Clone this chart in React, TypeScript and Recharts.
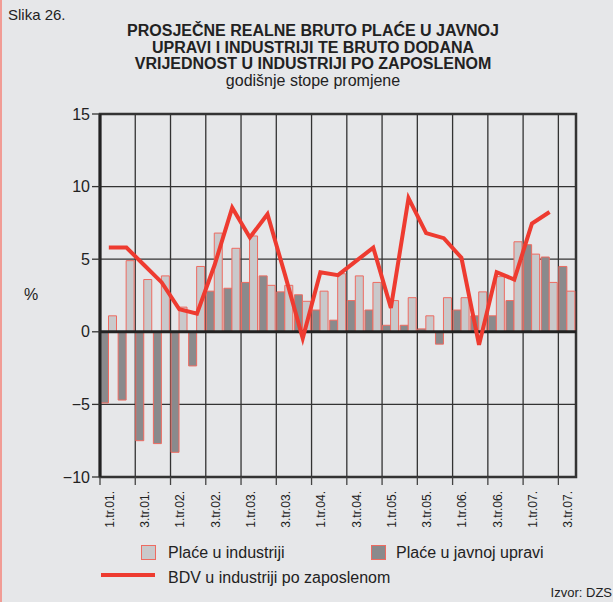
import React from "react";
import {
  ComposedChart,
  Bar,
  Line,
  XAxis,
  YAxis,
  CartesianGrid,
  ReferenceLine,
  ReferenceArea,
} from "recharts";

const quarters = [
  "1.tr.01.", "2.tr.01.", "3.tr.01.", "4.tr.01.",
  "1.tr.02.", "2.tr.02.", "3.tr.02.", "4.tr.02.",
  "1.tr.03.", "2.tr.03.", "3.tr.03.", "4.tr.03.",
  "1.tr.04.", "2.tr.04.", "3.tr.04.", "4.tr.04.",
  "1.tr.05.", "2.tr.05.", "3.tr.05.", "4.tr.05.",
  "1.tr.06.", "2.tr.06.", "3.tr.06.", "4.tr.06.",
  "1.tr.07.", "2.tr.07.", "3.tr.07.",
];

// plaće u javnoj upravi
const javnaUprava = [
  -4.9, -4.7, -7.5, -7.7, -8.3, -2.35, 2.8, 3.0, 3.4, 3.85, 2.75, 2.55, 1.5, 0.8,
  2.15, 1.5, 0.45, 0.45, 0.2, -0.85, 1.5, 1.1, 1.1, 2.15, 6.0, 5.15, 4.5,
];

// plaće u industriji
const industrija = [
  1.1, 4.9, 3.6, 3.85, 1.7, 4.5, 6.8, 5.75, 6.6, 3.2, 3.2, 2.1, 2.8, 4.0, 3.85,
  3.4, 2.15, 2.35, 1.1, 2.35, 2.35, 2.75, 3.8, 6.2, 5.35, 3.4, 2.8,
];

// BDV u industriji po zaposlenom
const bdv: (number | null)[] = [
  5.8, 5.8, 4.6, 3.4, 1.55, 1.25, 4.6, 8.55, 6.5, 8.1, 3.9, -0.45, 4.1, 3.9,
  4.85, 5.8, 1.65, 9.2, 6.8, 6.45, 5.1, -0.9, 4.1, 3.6, 7.45, 8.25, null,
];

const yTicks = [-10, -5, 0, 5, 10, 15];

const data = quarters.map((q, i) => ({
  q,
  uprava: javnaUprava[i],
  industrija: industrija[i],
  bdv: bdv[i],
}));

const W = 613;
const H = 602;
const PLOT_LEFT = 100;
const PLOT_RIGHT = 576;
const PLOT_BOTTOM = 477;
const SLOT = (PLOT_RIGHT - PLOT_LEFT) / quarters.length;

const FONT = '"Liberation Sans", Arial, Helvetica, sans-serif';
const BG = "#e6e7e9";
const RED = "#ee3b30";
const EDGE = "#ee6b61";
const LIGHT = "#c9c9cb";
const DARK = "#8a8a8c";

const QuarterTick = (props: any) => {
  const { x, index, payload } = props;
  if (index % 2 !== 0) return null;
  const bx = x - SLOT / 2;
  return (
    <g>
      <line x1={bx} y1={PLOT_BOTTOM} x2={bx} y2={PLOT_BOTTOM + 8} stroke="#444" strokeWidth={1.3} />
      <text
        transform={`translate(${x + 5},${PLOT_BOTTOM + 14}) rotate(-90)`}
        textAnchor="end"
        fontSize={12}
        fontFamily={FONT}
        fill="#222"
      >
        {payload.value}
      </text>
    </g>
  );
};

export default function App() {
  return (
    <div
      style={{
        position: "absolute",
        left: 0,
        top: 0,
        width: W,
        height: H,
        background: BG,
        fontFamily: FONT,
        color: "#222",
        boxSizing: "border-box",
        borderLeft: "2px solid #f19c95",
      }}
    >
      <div style={{ position: "absolute", left: 6, top: 7, fontSize: 15, lineHeight: "15px" }}>
        Slika 26.
      </div>
      <div
        style={{
          position: "absolute",
          left: 0,
          width: 622,
          top: 23,
          textAlign: "center",
          fontSize: 16,
          lineHeight: "16.5px",
        }}
      >
        <div style={{ fontWeight: "bold" }}>PROSJEČNE REALNE BRUTO PLAĆE U JAVNOJ</div>
        <div style={{ fontWeight: "bold" }}>UPRAVI I INDUSTRIJI TE BRUTO DODANA</div>
        <div style={{ fontWeight: "bold" }}>VRIJEDNOST U INDUSTRIJI PO ZAPOSLENOM</div>
        <div>godišnje stope promjene</div>
      </div>
      <div style={{ position: "absolute", left: 22, top: 287, fontSize: 16, lineHeight: "16px" }}>%</div>

      <div style={{ position: "absolute", left: -2, top: 0 }}>
        <ComposedChart
          width={W}
          height={H}
          data={data}
          margin={{ top: 114, right: W - PLOT_RIGHT, left: 40, bottom: 65 }}
          barCategoryGap={0.5}
          barGap={0}
        >
          <CartesianGrid
            stroke="#333"
            strokeWidth={1.3}
            verticalCoordinatesGenerator={({ offset }: any) => {
              const out: number[] = [];
              for (let i = 2; i < quarters.length; i += 2) {
                out.push(offset.left + (offset.width * i) / quarters.length);
              }
              return out;
            }}
          />
          <XAxis
            dataKey="q"
            interval={0}
            height={60}
            axisLine={false}
            tickLine={false}
            tick={<QuarterTick />}
          />
          <YAxis
            domain={[-10, 15]}
            ticks={yTicks}
            width={60}
            tickSize={8}
            tickMargin={2}
            axisLine={{ stroke: "#222", strokeWidth: 3 }}
            tickLine={{ stroke: "#333", strokeWidth: 1.3 }}
            tick={{ fill: "#222", fontSize: 16, fontFamily: FONT }}
            tickFormatter={(v: number) => (v < 0 ? "\u2212" + Math.abs(v) : String(v))}
          />
          <Bar dataKey="uprava" fill={DARK} stroke={EDGE} strokeWidth={1} isAnimationActive={false} />
          <Bar dataKey="industrija" fill={LIGHT} stroke={EDGE} strokeWidth={1} isAnimationActive={false} />
          <ReferenceArea y1={-10} y2={15} fill="none" stroke="#333" strokeWidth={2.5} />
          <ReferenceLine y={0} stroke="#222" strokeWidth={3} />
          <Line
            dataKey="bdv"
            stroke={RED}
            strokeWidth={4}
            dot={false}
            activeDot={false}
            isAnimationActive={false}
          />
        </ComposedChart>
      </div>

      {/* legenda */}
      <div
        style={{
          position: "absolute",
          left: 139,
          top: 545,
          width: 13,
          height: 13,
          background: LIGHT,
          border: `1px solid ${EDGE}`,
        }}
      />
      <div style={{ position: "absolute", left: 166, top: 545, fontSize: 16, lineHeight: "16px" }}>
        Plaće u industriji
      </div>
      <div
        style={{
          position: "absolute",
          left: 369,
          top: 545,
          width: 13,
          height: 13,
          background: DARK,
          border: `1px solid ${EDGE}`,
        }}
      />
      <div style={{ position: "absolute", left: 394, top: 545, fontSize: 16, lineHeight: "16px" }}>
        Plaće u javnoj upravi
      </div>
      <div
        style={{ position: "absolute", left: 99, top: 573, width: 54, height: 4, background: RED }}
      />
      <div style={{ position: "absolute", left: 166, top: 570, fontSize: 16, lineHeight: "16px" }}>
        BDV u industriji po zaposlenom
      </div>
      <div style={{ position: "absolute", right: 1, top: 586, fontSize: 13, lineHeight: "13px" }}>
        Izvor: DZS
      </div>
    </div>
  );
}
